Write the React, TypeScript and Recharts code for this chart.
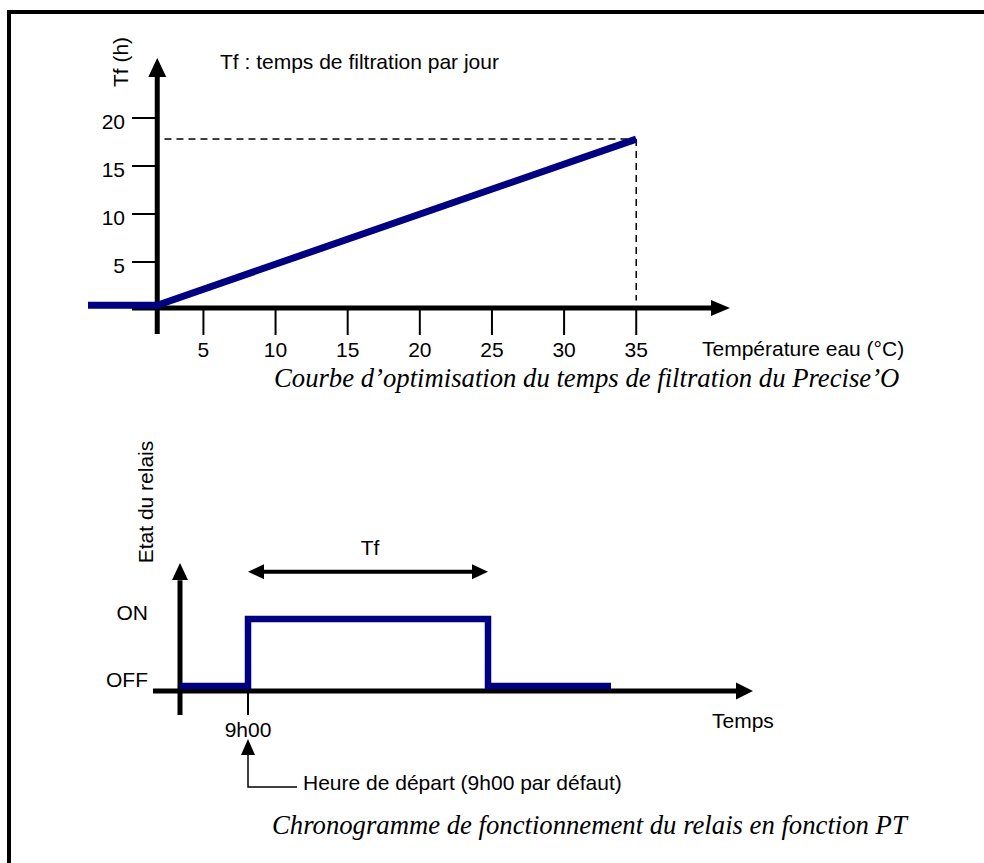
import React from 'react'
import { ComposedChart, Line, XAxis, YAxis, ReferenceLine, ReferenceDot } from 'recharts'

const SANS = "'Liberation Sans', Arial, sans-serif"
const SERIF = "'Liberation Serif', 'Times New Roman', serif"
const NAVY = '#000080'
const FS = 21

// courbe Tf = f(température eau)
const temperatures = [-3, 1.8, 35]
const filtrationHours = [0.5, 0.5, 17.8]
const tempTicks = [5, 10, 15, 20, 25, 30, 35]
const hourTicks = [5, 10, 15, 20]

// chronogramme du relais (heures)
const times = [5.6, 9, 21, 27.15]
const relayStates = [0, 1, 0, 0]
const stateTicks = [0, 1]
const stateLabels = ['OFF', 'ON']
const startHour = 9
const endHour = 21
const startLabel = '9h00'

const curveData = temperatures.map((t, i) => ({ t, tf: filtrationHours[i] }))
const relayData = times.map((t, i) => ({ t, s: relayStates[i] }))

const arrowRight = (len: number, half: number) => (p: any) => (
  <polygon points={`${p.cx},${p.cy} ${p.cx - len},${p.cy - half} ${p.cx - len},${p.cy + half}`} fill="#000" />
)
const arrowLeft = (len: number, half: number) => (p: any) => (
  <polygon points={`${p.cx},${p.cy} ${p.cx + len},${p.cy - half} ${p.cx + len},${p.cy + half}`} fill="#000" />
)
const arrowUp = (len: number, half: number) => (p: any) => (
  <polygon points={`${p.cx},${p.cy} ${p.cx - half},${p.cy + len} ${p.cx + half},${p.cy + len}`} fill="#000" />
)

function HourTick(props: any) {
  const { y, payload } = props
  return (
    <g>
      <line x1={132} x2={155} y1={y} y2={y} stroke="#000" strokeWidth={2} />
      <text x={125} y={y + 11} textAnchor="end" fontSize={FS} fontFamily={SANS} fill="#000">
        {payload.value}
      </text>
    </g>
  )
}

function StateTick(props: any) {
  const { y, payload } = props
  return (
    <text x={148} y={y + 1} textAnchor="end" fontSize={FS} fontFamily={SANS} fill="#000">
      {stateLabels[stateTicks.indexOf(payload.value)]}
    </text>
  )
}

function TopChart() {
  return (
    <ComposedChart width={984} height={370} data={curveData} margin={{ top: 58, right: 254, bottom: 0, left: 87 }}>
      <XAxis
        dataKey="t"
        type="number"
        domain={[-3, 41.5]}
        ticks={tempTicks}
        interval={0}
        axisLine={false}
        tickLine={{ stroke: '#000', strokeWidth: 2 }}
        tickSize={25}
        tickMargin={7}
        height={60}
        tick={{ fill: '#000', fontSize: FS, fontFamily: SANS }}
      />
      <YAxis
        type="number"
        domain={[0, 26.25]}
        ticks={hourTicks}
        interval={0}
        width={1}
        axisLine={false}
        tickLine={false}
        tick={HourTick}
      />
      <ReferenceLine segment={[{ x: 2.3, y: 17.8 }, { x: 35, y: 17.8 }]} stroke="#000" strokeWidth={1.5} strokeDasharray="7 5" ifOverflow="visible" />
      <ReferenceLine segment={[{ x: 35, y: 17.8 }, { x: 35, y: 1 }]} stroke="#000" strokeWidth={1.5} strokeDasharray="7 5" ifOverflow="visible" />
      <ReferenceLine segment={[{ x: 0.05, y: 0.2 }, { x: 40.3, y: 0.2 }]} stroke="#000" strokeWidth={5} ifOverflow="visible" />
      <ReferenceLine segment={[{ x: 1.8, y: -2.5 }, { x: 1.8, y: 24.4 }]} stroke="#000" strokeWidth={5} ifOverflow="visible" />
      <ReferenceDot x={41.5} y={0.2} ifOverflow="visible" shape={arrowRight(19, 8)} />
      <ReferenceDot x={1.8} y={26.25} ifOverflow="visible" shape={arrowUp(19, 9)} />
      <Line type="linear" dataKey="tf" stroke={NAVY} strokeWidth={7} dot={false} isAnimationActive={false} />
    </ComposedChart>
  )
}

function RelayChart() {
  return (
    <ComposedChart width={984} height={863} data={relayData} margin={{ top: 563, right: 231, bottom: 148, left: 152 }}>
      <XAxis dataKey="t" type="number" domain={[4.25, 34.25]} hide />
      <YAxis
        type="number"
        domain={[-0.433, 1.836]}
        ticks={stateTicks}
        interval={0}
        width={1}
        axisLine={false}
        tickLine={false}
        tick={StateTick}
      />
      <ReferenceLine segment={[{ x: 4.25, y: -0.075 }, { x: 33.4, y: -0.075 }]} stroke="#000" strokeWidth={5} ifOverflow="visible" />
      <ReferenceLine segment={[{ x: 5.6, y: -0.433 }, { x: 5.6, y: 1.58 }]} stroke="#000" strokeWidth={5} ifOverflow="visible" />
      <ReferenceDot x={34.25} y={-0.075} ifOverflow="visible" shape={arrowRight(17, 8.5)} />
      <ReferenceDot x={5.6} y={1.836} ifOverflow="visible" shape={arrowUp(17, 8)} />
      <ReferenceLine segment={[{ x: startHour, y: -0.075 }, { x: startHour, y: -0.433 }]} stroke="#000" strokeWidth={2} ifOverflow="visible" />
      <ReferenceDot
        x={startHour}
        y={-0.433}
        ifOverflow="visible"
        shape={(p: any) => (
          <text x={p.cx} y={p.cy + 22} textAnchor="middle" fontSize={FS} fontFamily={SANS} fill="#000">
            {startLabel}
          </text>
        )}
      />
      <ReferenceLine segment={[{ x: startHour + 0.75, y: 1.706 }, { x: endHour - 0.75, y: 1.706 }]} stroke="#000" strokeWidth={4} ifOverflow="visible" />
      <ReferenceDot x={startHour} y={1.706} ifOverflow="visible" shape={arrowLeft(16, 7.5)} />
      <ReferenceDot x={endHour} y={1.706} ifOverflow="visible" shape={arrowRight(16, 7.5)} />
      <Line type="stepAfter" dataKey="s" stroke={NAVY} strokeWidth={6.5} dot={false} isAnimationActive={false} />
    </ComposedChart>
  )
}

export default function App() {
  const txt = { fontFamily: SANS, fontSize: FS, fill: '#000' }
  const cap = { fontFamily: SERIF, fontSize: 26.7, fontStyle: 'italic' as const, fill: '#000' }
  return (
    <div style={{ position: 'fixed', left: 0, top: 0, width: 984, height: 863, overflow: 'hidden', background: '#fff' }}>
      <div
        style={{
          position: 'absolute',
          left: 7,
          top: 10,
          width: 1100,
          height: 1000,
          borderLeft: '4px solid #000',
          borderTop: '4px solid #000',
        }}
      />
      <div style={{ position: 'absolute', left: 0, top: 0 }}>
        <TopChart />
      </div>
      <div style={{ position: 'absolute', left: 0, top: 0 }}>
        <RelayChart />
      </div>
      <svg width={984} height={863} style={{ position: 'absolute', left: 0, top: 0, pointerEvents: 'none' }}>
        <text {...txt} transform="translate(128,62) rotate(-90)" textAnchor="middle">Tf (h)</text>
        <text {...txt} x={220} y={69}>Tf : temps de filtration par jour</text>
        <text {...txt} x={702} y={356}>Température eau (°C)</text>
        <text {...cap} x={274} y={387}>Courbe d’optimisation du temps de filtration du Precise’O</text>

        <text {...txt} transform="translate(152.5,502) rotate(-90)" textAnchor="middle">Etat du relais</text>
        <text {...txt} x={370} y={555} textAnchor="middle">Tf</text>
        <text {...txt} x={712} y={728}>Temps</text>
        <polygon points="248,739 241,755 255,755" fill="#000" />
        <polyline points="248,755 248,787 297,787" fill="none" stroke="#000" strokeWidth={1.5} />
        <text {...txt} x={303} y={790}>Heure de départ (9h00 par défaut)</text>
        <text {...cap} x={272} y={834}>Chronogramme de fonctionnement du relais en fonction PT</text>
      </svg>
    </div>
  )
}
